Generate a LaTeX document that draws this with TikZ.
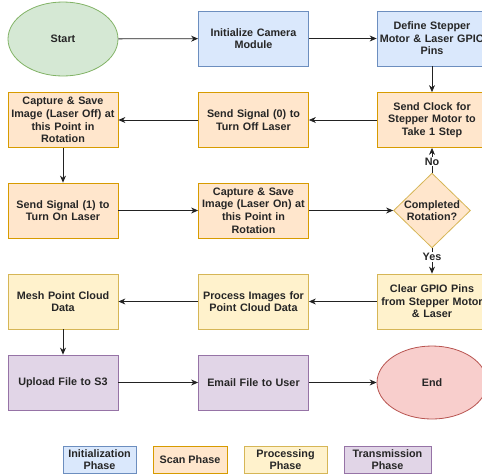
\documentclass[tikz,border=0pt]{standalone}
\usepackage{fontspec}
\setmainfont{Liberation Sans}
\usetikzlibrary{shapes.geometric,arrows.meta}
\definecolor{initF}{HTML}{DAE8FC}\definecolor{initD}{HTML}{6C8EBF}
\definecolor{scanF}{HTML}{FFE6CC}\definecolor{scanD}{HTML}{D79B00}
\definecolor{procF}{HTML}{FFF2CC}\definecolor{procD}{HTML}{D6B656}
\definecolor{tranF}{HTML}{E1D5E7}\definecolor{tranD}{HTML}{9673A6}
\definecolor{startF}{HTML}{D5E8D4}\definecolor{startD}{HTML}{82B366}
\definecolor{endF}{HTML}{F8CECC}\definecolor{endD}{HTML}{B85450}
\definecolor{lineC}{HTML}{222222}
\begin{document}
\begin{tikzpicture}[x=1pt,y=-1pt,
  every node/.style={font=\bfseries\fontsize{10.8}{12.6}\selectfont, text=black!85, align=center, inner sep=1pt},
  box/.style={rectangle, minimum width=110pt, minimum height=55pt, text width=106pt, line width=0.8pt},
  initbox/.style={box, fill=initF, draw=initD},
  scanbox/.style={box, fill=scanF, draw=scanD},
  procbox/.style={box, fill=procF, draw=procD},
  tranbox/.style={box, fill=tranF, draw=tranD},
  oval/.style={ellipse, minimum width=110pt, minimum height=74pt, line width=0.8pt},
  legbox/.style={rectangle, minimum height=27pt, line width=0.8pt, inner sep=0pt},
  arr/.style={draw=lineC, line width=0.8pt, -{Stealth[length=7pt,width=6pt]}},
  lbl/.style={fill=white, inner sep=1pt}
]
\useasboundingbox (0,0) rectangle (482,475);
\node[oval, fill=startF, draw=startD] (start) at (63,39) {Start};
\node[initbox] (cam) at (253.5,38.5) {Initialize Camera\\Module};
\node[initbox] (gpio) at (432,38.5) {Define Stepper\\Motor \& Laser GPIO\\Pins};
\node[scanbox] (clock) at (432,120) {Send Clock for\\Stepper Motor to\\Take 1 Step};
\node[scanbox] (off) at (253.5,120) {Send Signal (0) to\\Turn Off Laser};
\node[scanbox] (capoff) at (63,120) {Capture \& Save\\Image (Laser Off) at\\this Point in\\Rotation};
\node[scanbox] (on) at (63,210.5) {Send Signal (1) to\\Turn On Laser};
\node[scanbox] (capon) at (253.5,210.5) {Capture \& Save\\Image (Laser On) at\\this Point in\\Rotation};
\node[diamond, aspect=1.03, minimum width=73pt, minimum height=71pt, inner sep=0pt, fill=scanF, draw=procD, line width=0.8pt] (done) at (432,210.5) {Completed\\Rotation?};
\node[procbox] (clear) at (432,301.5) {Clear GPIO Pins\\from Stepper Motor\\\& Laser};
\node[procbox] (proc) at (253.5,301.5) {Process Images for\\Point Cloud Data};
\node[procbox] (mesh) at (63,301.5) {Mesh Point Cloud\\Data};
\node[tranbox] (up) at (63,382.5) {Upload File to S3};
\node[tranbox] (mail) at (253.5,382.5) {Email File to User};
\node[oval, minimum height=73pt, fill=endF, draw=endD] (end) at (432,382.5) {End};

\draw[arr] (start) -- (cam);
\draw[arr] (cam) -- (gpio);
\draw[arr] (gpio) -- (clock);
\draw[arr] (clock) -- (off);
\draw[arr] (off) -- (capoff);
\draw[arr] (capoff) -- (on);
\draw[arr] (on) -- (capon);
\draw[arr] (capon) -- (done);
\draw[arr] (done) -- node[lbl, pos=0.45] {No} (clock);
\draw[arr] (done) -- node[lbl, pos=0.35] {Yes} (clear);
\draw[arr] (clear) -- (proc);
\draw[arr] (proc) -- (mesh);
\draw[arr] (mesh) -- (up);
\draw[arr] (up) -- (mail);
\draw[arr] (mail) -- (end);

\node[legbox, minimum width=73pt, fill=initF, draw=initD] (l1) at (99.5,459.5) {Initialization\\Phase};
\node[legbox, minimum width=74pt, fill=scanF, draw=scanD] (l2) at (190,459.5) {Scan Phase};
\node[legbox, minimum width=83pt, fill=procF, draw=procD] (l3) at (285.5,459.5) {Processing\\Phase};
\node[legbox, minimum width=87pt, fill=tranF, draw=tranD] (l4) at (387.5,459.5) {Transmission\\Phase};
\end{tikzpicture}
\end{document}
